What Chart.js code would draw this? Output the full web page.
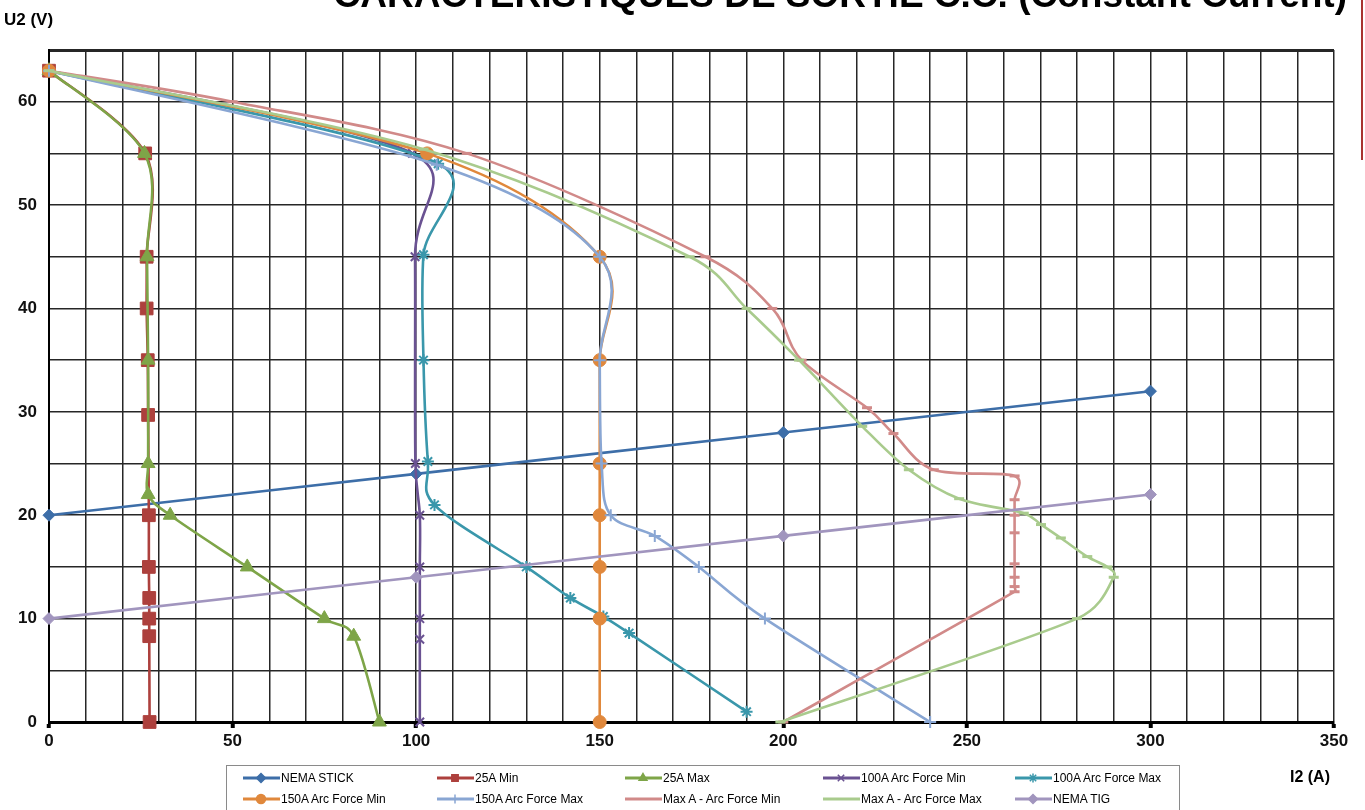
<!DOCTYPE html>
<html>
<head>
<meta charset="utf-8">
<script src="https://cdn.jsdelivr.net/npm/chart.js@4"></script>
<style>
  body { margin: 0; background: #fff; overflow: hidden; }
  #wrap { position: relative; width: 1365px; height: 810px; overflow: hidden; font-family: "Liberation Sans", Arial, sans-serif; }
  #title { position: absolute; right: 18px; top: -24px; font-size: 37px; line-height: 37px; font-weight: bold; white-space: nowrap; color: #000; }
  #ytitle { position: absolute; left: 4px; top: 11px; font-size: 17px; line-height: 17px; font-weight: bold; color: #000; }
  #xtitle { position: absolute; left: 1290px; top: 768px; font-size: 16px; font-weight: bold; color: #000; }
  #redline { position: absolute; left: 1361px; top: 0; width: 2px; height: 160px; background: #a8322e; }
  #legend { position: absolute; left: 226px; top: 765px; width: 952px; height: 70px; border: 1px solid #8a8a8a; }
  .item { position: absolute; font-size: 12px; line-height: 14px; color: #000; white-space: nowrap; }
  .sym { position: absolute; }
</style>
</head>
<body>
<div id="wrap">
  <canvas id="chart" width="1365" height="810"></canvas>
  <div id="title">CARACTÉRISTIQUES DE SORTIE C.C. (Constant Current)</div>
  <div id="ytitle">U2 (V)</div>
  <div id="xtitle">I2 (A)</div>
  <div id="redline"></div>
  <div id="legend"></div>
</div>
<script>
// [I2 (A), U2 (V)]
var nemaStick = [[0, 20], [100, 24], [200, 28], [300, 32]];
var min25A = [[0, 63], [26.2, 55], [26.6, 45], [26.6, 40], [26.9, 35], [27, 29.7], [27.2, 20], [27.2, 15], [27.3, 12], [27.3, 10], [27.3, 8.3], [27.4, 0]];
var max25A = [[0, 63], [26, 55], [26.7, 45], [27, 35], [27, 25], [27, 22], [33, 20], [54, 15], [75, 10], [83, 8.3], [90, 0]];
var min100A = [[0, 63], [99, 55], [99.7, 45], [99.8, 25], [101, 20], [101, 15], [101, 10], [101, 8], [101, 0]];
var max100A = [[0, 63], [106, 54], [102, 45.2], [102, 35], [103.2, 25.2], [105, 21], [130, 15], [142, 12], [151, 10.2], [158, 8.6], [190, 1]];
var min150A = [[0, 63], [103, 55], [150, 45], [150, 35], [150, 25], [150, 20], [150, 15], [150, 10], [150, 0]];
var max150A = [[0, 63], [105.6, 53.9], [150, 45], [150, 35], [150.5, 25], [153, 20], [165, 18], [177, 15], [195, 10], [240, 0]];
var minMaxA = [[0, 63], [50, 60], [113.8, 55], [178.8, 45], [197, 40], [205, 35], [222.8, 30.4], [230, 27.9], [241, 24.4], [263, 23.8], [263, 21.5], [263, 20], [263, 18.3], [263, 15.3], [263, 14], [263, 13.1], [263, 12.6], [200, 0]];
var maxMaxA = [[0, 63], [102, 55.4], [174.5, 45], [190, 40], [204.3, 35], [221.5, 28.6], [234.2, 24.4], [247.9, 21.6], [265.5, 20.2], [270.2, 19.1], [275.6, 17.8], [282.8, 16], [288.3, 15], [290, 14], [280, 10], [199.2, 0]];
var nemaTig = [[0, 10], [100, 14], [200, 18], [300, 22]];

var seriesNames = ["NEMA STICK", "25A Min", "25A Max", "100A Arc Force Min", "100A Arc Force Max",
                   "150A Arc Force Min", "150A Arc Force Max", "Max A -  Arc Force Min", "Max A - Arc Force Max", "NEMA TIG"];
var seriesData = [nemaStick, min25A, max25A, min100A, max100A, min150A, max150A, minMaxA, maxMaxA, nemaTig];
var seriesColors = ["#3d6ea8", "#ad403d", "#7ea548", "#6a5292", "#3a97ab", "#e0883c", "#89a6d3", "#d18a89", "#a9cb8d", "#a195be"];
var seriesMarkers = ["rectRot", "rect", "triangle", "crossRot", "star", "circle", "cross", "line", "line", "rectRot"];
var markerSizes = [6, 9, 8, 6, 6, 6.5, 6, 5, 5, 6];

// Excel style smoothing: tangent = (next - prev) / 6, arm capped by the neighbouring segment
function arm(tx, ty, seg) {
    var len = Math.sqrt(tx * tx + ty * ty);
    var cap = seg * 0.5;
    if (len > cap && len > 0) { tx *= cap / len; ty *= cap / len; }
    return [tx, ty];
}
var excelSmooth = {
    id: 'excelSmooth',
    beforeDatasetDraw: function (chart, args) {
        var meta = args.meta;
        var line = meta.dataset;
        if (!line) return;
        if (line.updateControlPoints) line.updateControlPoints(chart.chartArea, 'x');
        var pts = meta.data;
        var n = pts.length;
        for (var i = 0; i < n; i++) {
            var p = pts[i];
            var prev = pts[Math.max(i - 1, 0)];
            var next = pts[Math.min(i + 1, n - 1)];
            var tx = (next.x - prev.x) / 6, ty = (next.y - prev.y) / 6;
            var a = arm(tx, ty, Math.hypot(p.x - prev.x, p.y - prev.y));
            var b = arm(tx, ty, Math.hypot(next.x - p.x, next.y - p.y));
            p.cp1x = p.x - a[0]; p.cp1y = p.y - a[1];
            p.cp2x = p.x + b[0]; p.cp2y = p.y + b[1];
        }
        line._pointsUpdated = true;
        line._path = undefined;
    }
};

var datasets = seriesData.map(function (d, i) {
    var open = ["crossRot", "star", "cross", "line"].indexOf(seriesMarkers[i]) >= 0;
    return {
        label: seriesNames[i],
        data: d.map(function (p) { return { x: p[0], y: p[1] }; }),
        showLine: true,
        tension: 0.4,
        borderColor: seriesColors[i],
        backgroundColor: seriesColors[i],
        borderWidth: 2.6,
        pointStyle: seriesMarkers[i],
        pointRadius: markerSizes[i],
        pointBorderWidth: open ? (seriesMarkers[i] == "line" ? 3 : 2) : 1,
        pointBackgroundColor: seriesColors[i],
        pointBorderColor: seriesColors[i],
        clip: false,
        order: seriesData.length - i
    };
});

var ctx = document.getElementById("chart");
var chart = new Chart(ctx, {
    type: 'scatter',
    data: { datasets: datasets },
    plugins: [excelSmooth],
    options: {
        responsive: false,
        devicePixelRatio: 1,
        animation: false,
        events: [],
        layout: { padding: { top: 50, right: 31, left: 0, bottom: 0 } },
        plugins: { legend: { display: false }, tooltip: { enabled: false } },
        scales: {
            x: {
                type: 'linear', min: 0, max: 350,
                afterFit: function (s) { s.height = 88; },
                border: { color: '#000', width: 3 },
                grid: {
                    color: '#262626', lineWidth: 1.5, drawTicks: true, tickLength: 6, tickWidth: 4,
                    tickColor: function (c) { return c.tick && c.tick.value % 50 === 0 ? '#000' : 'rgba(0,0,0,0)'; }
                },
                ticks: {
                    stepSize: 10, autoSkip: false, maxRotation: 0, padding: 3, color: '#111',
                    font: { family: 'Liberation Sans', size: 17, weight: 'bold' },
                    callback: function (v) { return v % 50 === 0 ? v : ''; }
                }
            },
            y: {
                type: 'linear', min: 0, max: 65,
                afterFit: function (s) { s.width = 49; },
                border: { color: '#000', width: 2 },
                grid: {
                    color: '#262626', drawTicks: false,
                    lineWidth: function (c) { return c.tick && c.tick.value === 65 ? 3 : 1.5; }
                },
                ticks: {
                    stepSize: 5, padding: 12, color: '#111',
                    font: { family: 'Liberation Sans', size: 17, weight: 'bold' },
                    callback: function (v) { return v % 10 === 0 ? v : ''; }
                }
            }
        }
    }
});

// legend in two rows of five, as in the workbook
var legendCols = [281, 475, 663, 861, 1053];
var legendRows = [778, 799];
var legendBox = document.getElementById("legend");
chart.data.datasets.forEach(function (ds, i) {
    var col = legendCols[i % 5] - 227, row = legendRows[Math.floor(i / 5)] - 766;
    var c = document.createElement("canvas");
    c.width = 40; c.height = 14;
    c.className = "sym";
    c.style.left = (col - 40) + "px";
    c.style.top = (row - 7) + "px";
    var g = c.getContext("2d");
    g.strokeStyle = ds.borderColor; g.fillStyle = ds.borderColor;
    g.lineWidth = 3;
    g.beginPath(); g.moveTo(2, 7); g.lineTo(39, 7); g.stroke();
    g.lineWidth = 1.5;
    if (Chart.helpers && Chart.helpers.drawPoint) {
        Chart.helpers.drawPoint(g, { pointStyle: ds.pointStyle, radius: 4.5, rotation: 0, borderWidth: 1.5 }, 20, 7);
    }
    legendBox.appendChild(c);
    var t = document.createElement("div");
    t.className = "item";
    t.textContent = ds.label;
    t.style.left = col + "px";
    t.style.top = (row - 7) + "px";
    legendBox.appendChild(t);
});
</script>
</body>
</html>
